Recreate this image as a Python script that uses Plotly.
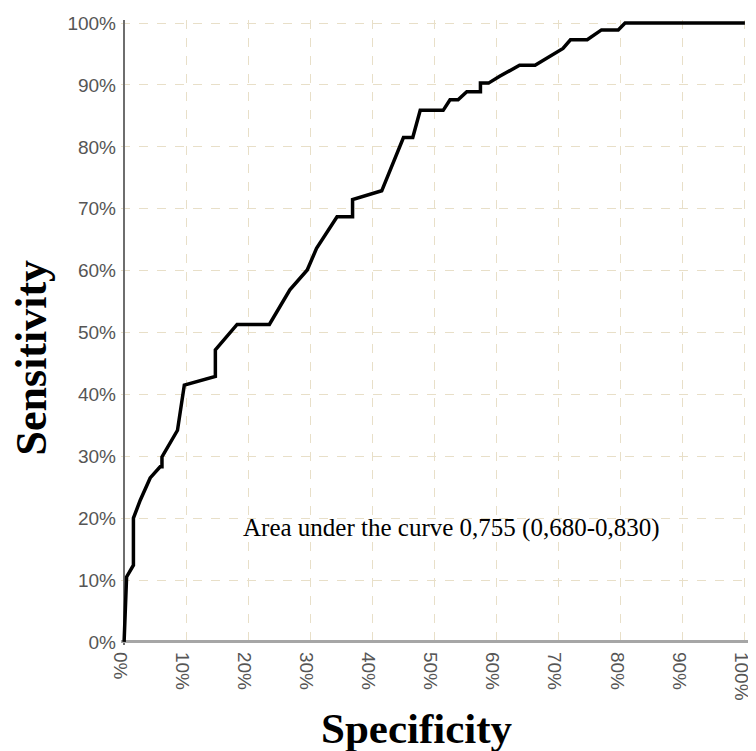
import plotly.graph_objects as go

# ROC curve points (percent)
fpr = [0, 0.4, 1.5, 1.5, 2.6, 4.2, 5.8, 6.1, 6.1, 8.6, 9.7, 14.7, 14.7, 18.2, 23.4,
       26.7, 29.5, 31.0, 34.3, 36.8, 36.8, 41.5, 45.0, 46.5, 47.7, 51.4, 52.5, 53.8,
       55.2, 57.4, 57.4, 58.7, 60.5, 63.7, 66.2, 70.7, 71.9, 74.6, 76.9, 79.6, 80.7, 100]
tpr = [0, 10.5, 12.4, 20.0, 22.9, 26.5, 28.3, 28.3, 29.9, 34.2, 41.5, 42.9, 47.2, 51.3, 51.3,
       56.9, 60.1, 63.6, 68.7, 68.7, 71.5, 72.9, 81.5, 81.5, 85.9, 85.9, 87.6, 87.6,
       88.9, 88.9, 90.3, 90.3, 91.4, 93.2, 93.2, 95.9, 97.3, 97.3, 98.9, 98.9, 100, 100]

tick_vals = [0, 10, 20, 30, 40, 50, 60, 70, 80, 90, 100]
tick_text = [f"{v}%" for v in tick_vals]

x_title = "Specificity"
y_title = "Sensitivity"
auc_text = "Area under the curve 0,755 (0,680-0,830)"

fig = go.Figure()
fig.add_trace(go.Scatter(x=fpr, y=tpr, mode="lines",
                         line=dict(color="black", width=3.5),
                         showlegend=False, hoverinfo="skip"))

serif = "Times New Roman, Liberation Serif, Tinos, serif"
sans = "Arial, Liberation Sans, sans-serif"
grid = "#e8dfc8"

fig.update_layout(
    width=748, height=743, autosize=False,
    margin=dict(l=113, r=8, t=12, b=106),
    paper_bgcolor="white", plot_bgcolor="white",
    xaxis=dict(range=[-0.5, 100.5], tickvals=tick_vals, ticktext=tick_text,
               tickangle=90, showline=False, showgrid=True, gridcolor=grid,
               griddash="dash", gridwidth=1, zeroline=True, zerolinecolor="#6e6e6e",
               zerolinewidth=1.5, ticks="", ticklabelstandoff=6, ticklabelshift=-4,
               automargin=False,
               tickfont=dict(family=sans, size=19, color="#555555"), fixedrange=True),
    yaxis=dict(range=[-0.5, 100.5], tickvals=tick_vals, ticktext=tick_text,
               showline=False, showgrid=True, gridcolor=grid, griddash="dash",
               gridwidth=1, zeroline=True, zerolinecolor="#a6a6a6", zerolinewidth=2.5,
               ticks="", ticklabelstandoff=4, automargin=False,
               tickfont=dict(family=sans, size=19, color="#555555"), fixedrange=True),
    annotations=[
        dict(text=auc_text, x=52.7, y=18.4, xref="x", yref="y", showarrow=False,
             font=dict(family=serif, size=25, color="black"), xanchor="center", yanchor="middle"),
        dict(text=f"<b>{x_title}</b>", x=0.472, y=-0.134, xref="paper", yref="paper",
             showarrow=False, font=dict(family=serif, size=43, color="black"),
             xanchor="center", yanchor="middle"),
        dict(text=f"<b>{y_title}</b>", x=-0.142, y=0.46, xref="paper", yref="paper",
             showarrow=False, textangle=-90, font=dict(family=serif, size=44, color="black"),
             xanchor="center", yanchor="middle"),
    ],
)

fig.write_html("out.html")
